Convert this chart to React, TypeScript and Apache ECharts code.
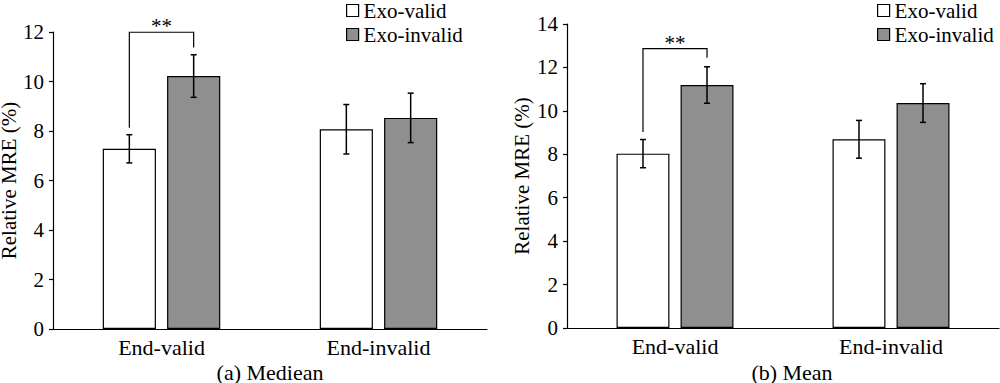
import React, { useEffect, useRef } from "react";
import * as echarts from "echarts";

const categories = ["End-valid", "End-invalid"];
const seriesNames = ["Exo-valid", "Exo-invalid"];

// (a) Median
const medianValid = [7.28, 8.07];
const medianValidErr = [0.57, 1.0];
const medianInvalid = [10.22, 8.53];
const medianInvalidErr = [0.86, 1.0];
const medianBracket = [8.13, 11.37, 11.99]; // left leg end, right leg end, top

// (b) Mean
const meanValid = [8.03, 8.69];
const meanValidErr = [0.65, 0.87];
const meanInvalid = [11.19, 10.36];
const meanInvalidErr = [0.84, 0.89];
const meanBracket = [9.03, 12.44, 12.87];

const yTicksA = { min: 0, max: 12, interval: 2 };
const yTicksB = { min: 0, max: 14, interval: 2 };

const FONT = "'Liberation Serif', serif";
const BAR_W = 0.245;
const BAR_GAP = 0.21;

function errRender(side: number) {
  return (params: any, api: any) => {
    const idx = api.value(0);
    const v = api.value(1);
    const e = api.value(2);
    const c = api.coord([idx, v]);
    const band = api.size([1, 0])[0];
    const w = band * BAR_W;
    const x = c[0] + (side * w * (1 + BAR_GAP)) / 2;
    const yHi = api.coord([idx, v + e])[1];
    const yLo = api.coord([idx, v - e])[1];
    const st = { stroke: "#000", lineWidth: 1.5 };
    return {
      type: "group",
      children: [
        { type: "line", shape: { x1: x, y1: yHi, x2: x, y2: yLo }, style: st },
        { type: "line", shape: { x1: x - 3, y1: yHi, x2: x + 3, y2: yHi }, style: st },
        { type: "line", shape: { x1: x - 3, y1: yLo, x2: x + 3, y2: yLo }, style: st },
      ],
    };
  };
}

function bracketRender(params: any, api: any) {
  const idx = api.value(0);
  const yL = api.coord([idx, api.value(1)])[1];
  const yR = api.coord([idx, api.value(2)])[1];
  const yT = api.coord([idx, api.value(3)])[1];
  const cx = api.coord([idx, 0])[0];
  const band = api.size([1, 0])[0];
  const w = band * BAR_W;
  const off = (w * (1 + BAR_GAP)) / 2;
  const xL = cx - off;
  const xR = cx + off;
  return {
    type: "group",
    children: [
      {
        type: "polyline",
        shape: { points: [[xL, yL], [xL, yT], [xR, yT], [xR, yR]] },
        style: { stroke: "#000", lineWidth: 1.2, fill: "none" },
      },
      {
        type: "text",
        x: (xL + xR) / 2,
        y: yT - 6,
        style: {
          text: "**",
          fontFamily: FONT,
          fontSize: 21,
          fill: "#000",
          align: "center",
          verticalAlign: "middle",
        },
      },
    ],
  };
}

export default function App() {
  const ref = useRef<HTMLDivElement>(null);
  useEffect(() => {
    if (!ref.current) return;
    const chart = echarts.init(ref.current, null, { renderer: "svg" });
    const xAxisBase = (gridIndex: number) => ({
      type: "category",
      gridIndex,
      data: categories,
      axisLine: { lineStyle: { color: "#000", width: 1.2 } },
      axisTick: { inside: true, length: 7, lineStyle: { color: "#000", width: 1.2 } },
      axisLabel: { color: "#000", fontSize: 22, fontFamily: FONT, margin: 7 },
    });
    const yAxisBase = (gridIndex: number, t: any, nameGap: number) => ({
      type: "value",
      gridIndex,
      min: t.min,
      max: t.max,
      interval: t.interval,
      name: "Relative MRE (%)",
      nameLocation: "middle",
      nameRotate: 90,
      nameGap,
      nameTextStyle: { color: "#000", fontSize: 21, lineHeight: 21, fontFamily: FONT },
      axisLine: { show: true, lineStyle: { color: "#000", width: 1.2 } },
      axisTick: { show: true, length: 4, lineStyle: { color: "#000", width: 1.2 } },
      axisLabel: { color: "#000", fontSize: 21, fontFamily: FONT, margin: 9 },
      splitLine: { show: false },
    });
    const barSeries = (name: string, data: number[], idx: number, color: string) => ({
      type: "bar",
      name,
      xAxisIndex: idx,
      yAxisIndex: idx,
      data,
      barWidth: BAR_W * 100 + "%",
      barGap: BAR_GAP * 100 + "%",
      itemStyle: { color, borderColor: "#000", borderWidth: 1.2 },
    });
    const errSeries = (vals: number[], errs: number[], idx: number, side: number) => ({
      type: "custom",
      xAxisIndex: idx,
      yAxisIndex: idx,
      z: 5,
      renderItem: errRender(side),
      data: vals.map((v, i) => [i, v, errs[i]]),
    });
    const bracketSeries = (b: number[], idx: number) => ({
      type: "custom",
      xAxisIndex: idx,
      yAxisIndex: idx,
      z: 6,
      renderItem: bracketRender,
      data: [[0, b[0], b[1], b[2]]],
    });
    const legendBase = (left: number) => ({
      data: seriesNames,
      left,
      top: 0,
      padding: 0,
      orient: "vertical",
      icon: "rect",
      itemWidth: 12,
      itemHeight: 12,
      itemGap: 3,
      itemStyle: { borderColor: "#000", borderWidth: 1.2 },
      textStyle: { color: "#000", fontSize: 21, fontFamily: FONT },
      selectedMode: false,
    });
    chart.setOption({
      animation: false,
      textStyle: { fontFamily: FONT },
      legend: [legendBase(346), legendBase(877)],
      grid: [
        { left: 53, top: 32, width: 434, height: 297, outerBoundsMode: "none", containLabel: false },
        { left: 567, top: 24, width: 432, height: 304, outerBoundsMode: "none", containLabel: false },
      ],
      xAxis: [xAxisBase(0), xAxisBase(1)],
      yAxis: [yAxisBase(0, yTicksA, 26), yAxisBase(1, yTicksB, 35)],
      graphic: [
        {
          type: "text",
          x: 270,
          y: 372,
          style: { text: "(a) Mediean", fontFamily: FONT, fontSize: 22, fill: "#000", align: "center", verticalAlign: "middle" },
        },
        {
          type: "text",
          x: 792,
          y: 372,
          style: { text: "(b) Mean", fontFamily: FONT, fontSize: 22, fill: "#000", align: "center", verticalAlign: "middle" },
        },
      ],
      series: [
        barSeries(seriesNames[0], medianValid, 0, "#ffffff"),
        barSeries(seriesNames[1], medianInvalid, 0, "#8f8f8f"),
        errSeries(medianValid, medianValidErr, 0, -1),
        errSeries(medianInvalid, medianInvalidErr, 0, 1),
        bracketSeries(medianBracket, 0),
        barSeries(seriesNames[0], meanValid, 1, "#ffffff"),
        barSeries(seriesNames[1], meanInvalid, 1, "#8f8f8f"),
        errSeries(meanValid, meanValidErr, 1, -1),
        errSeries(meanInvalid, meanInvalidErr, 1, 1),
        bracketSeries(meanBracket, 1),
      ],
    });
    return () => chart.dispose();
  }, []);
  return (
    <div
      ref={ref}
      style={{ position: "fixed", left: 0, top: 0, width: 1000, height: 383, background: "#fff" }}
    />
  );
}
